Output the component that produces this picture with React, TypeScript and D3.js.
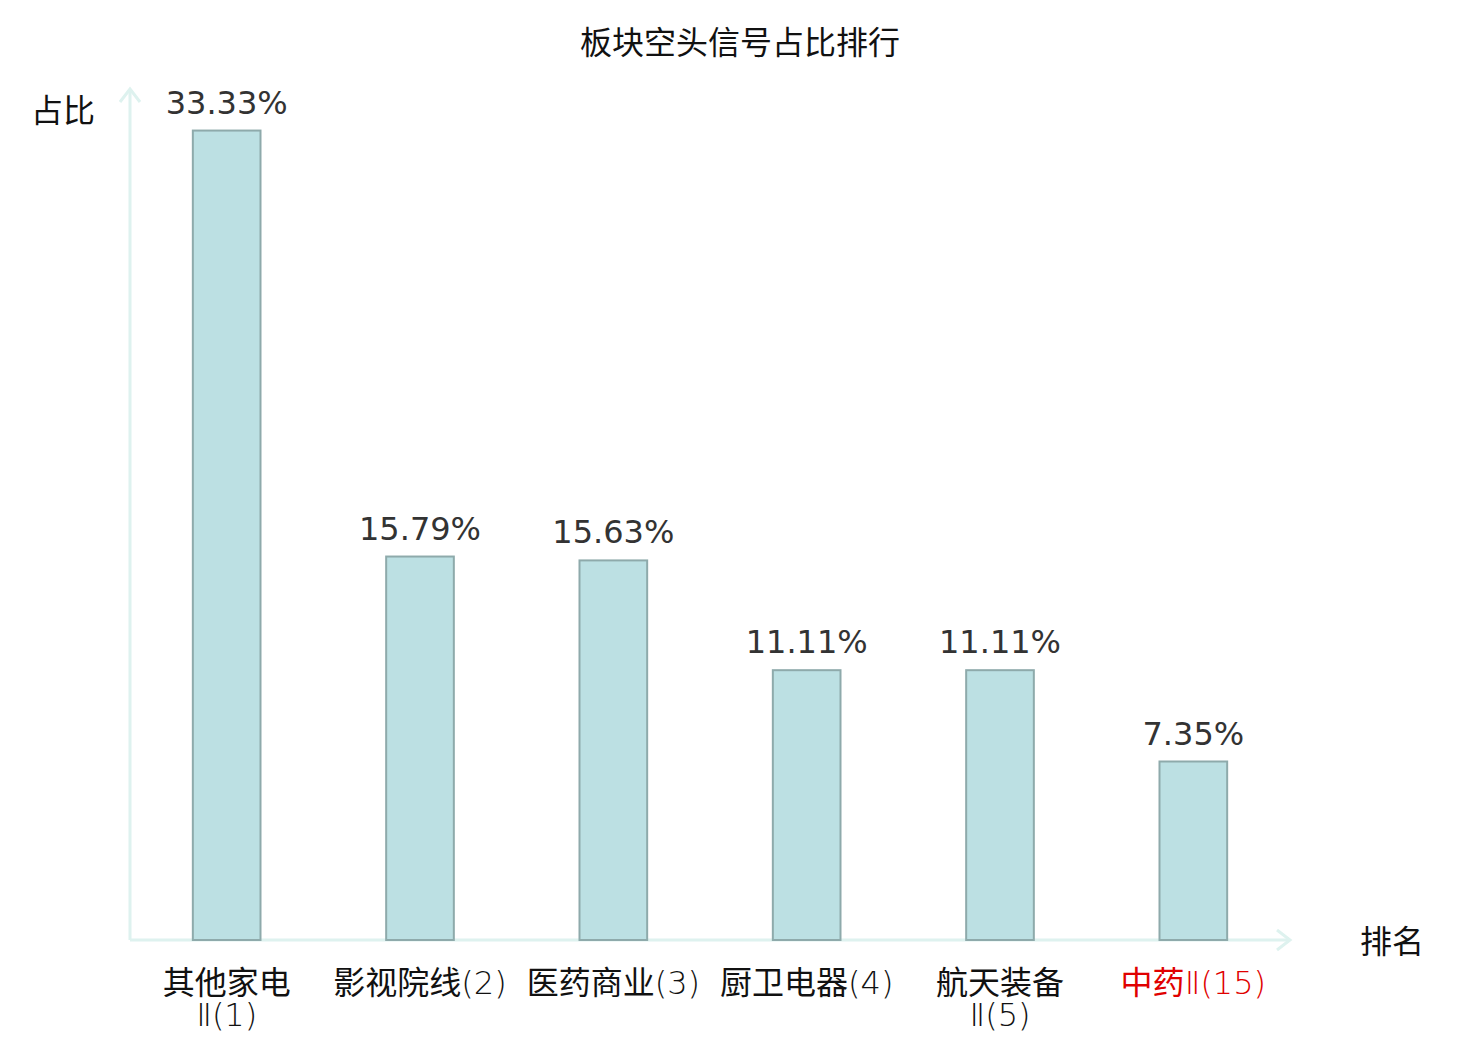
import { useEffect, useRef } from "react"
import * as d3 from "d3"

const title = "板块空头信号占比排行"
const categories = ["其他家电Ⅱ(1)", "影视院线(2)", "医药商业(3)", "厨卫电器(4)", "航天装备Ⅱ(5)", "中药Ⅱ(15)"]
const shares = [33.33, 15.79, 15.63, 11.11, 11.11, 7.35]
const highlighted = ["中药Ⅱ(15)"]
const yName = "占比"
const xName = "排名"

const W = 1480
const H = 1040
const FONT = "'DejaVu Sans', 'Noto Sans CJK SC', sans-serif"

const isCJK = (s: string) => /[\u4e00-\u9fff]/.test(s)

// CJK characters break one by one, latin runs stay together
function tokens(s: string) {
  return s.match(/[\u4e00-\u9fff]|[^\u4e00-\u9fff]+/g) || []
}

export default function App() {
  const svgRef = useRef<SVGSVGElement>(null)

  useEffect(() => {
    document.body.style.margin = "0"
    if (!svgRef.current) return
    const svg = d3.select(svgRef.current)
    svg.selectAll("*").remove()

    const left = 130
    const right = 1290
    const bottom = 940
    const top = 90
    const axisColor = "#def2ef"

    const x = d3.scaleBand<string>().domain(categories).range([left, right]).paddingInner(0.65).paddingOuter(0.325)
    const y = d3.scaleLinear().domain([0, 35]).range([bottom, top])

    svg
      .append("text")
      .attr("x", 740)
      .attr("y", 54)
      .attr("text-anchor", "middle")
      .style("font-family", FONT)
      .style("font-size", "32px")
      .style("fill", "#111")
      .text(title)

    // axes with arrows
    const ax = svg.append("g").attr("stroke", axisColor).attr("stroke-width", 3).attr("fill", "none")
    ax.append("line").attr("x1", left).attr("x2", left).attr("y1", bottom).attr("y2", top - 1)
    ax.append("path").attr("d", `M${left - 10},${top + 12}L${left},${top - 1}L${left + 10},${top + 12}`)
    ax.append("line").attr("x1", left).attr("x2", right).attr("y1", bottom).attr("y2", bottom)
    ax.append("path").attr("d", `M${right - 13},${bottom - 10}L${right},${bottom}L${right - 13},${bottom + 10}`)

    svg
      .append("text")
      .attr("x", 63)
      .attr("y", 122)
      .attr("text-anchor", "middle")
      .style("font-family", FONT)
      .style("font-size", "32px")
      .style("fill", "#111")
      .text(yName)

    svg
      .append("text")
      .attr("x", 1392)
      .attr("y", 953)
      .attr("text-anchor", "middle")
      .style("font-family", FONT)
      .style("font-size", "32px")
      .style("fill", "#111")
      .text(xName)

    svg
      .append("g")
      .selectAll("rect")
      .data(shares)
      .enter()
      .append("rect")
      .attr("x", (_, i) => x(categories[i]) as number)
      .attr("y", (d) => y(d))
      .attr("width", x.bandwidth())
      .attr("height", (d) => bottom - y(d))
      .attr("fill", "#bce0e3")
      .attr("stroke", "#8eaaab")
      .attr("stroke-width", 2)

    svg
      .append("g")
      .selectAll("text")
      .data(shares)
      .enter()
      .append("text")
      .attr("x", (_, i) => (x(categories[i]) as number) + x.bandwidth() / 2)
      .attr("y", (d) => y(d) - 17)
      .attr("text-anchor", "middle")
      .style("font-family", FONT)
      .style("font-size", "32px")
      .style("fill", "#333")
      .text((d) => `${d.toFixed(2)}%`)

    // category labels: CJK regular, latin runs light, wrapped
    const maxW = 182
    const labels = svg.append("g")
    const fill = (tk: string[], el: d3.Selection<SVGTextElement, unknown, null, undefined>) => {
      el.selectAll("tspan").remove()
      tk.forEach((t) => {
        el.append("tspan")
          .style("font-family", isCJK(t) ? "'Noto Sans CJK SC', sans-serif" : "'DejaVu Sans', sans-serif")
          .style("font-weight", isCJK(t) ? 400 : 200)
          .text(t)
      })
    }
    categories.forEach((c) => {
      const cx = (x(c) as number) + x.bandwidth() / 2
      const color = highlighted.includes(c) ? "#e00000" : "#111"
      const mk = (row: number) =>
        labels
          .append("text")
          .attr("x", cx)
          .attr("y", bottom + 54 + row * 32)
          .attr("text-anchor", "middle")
          .style("font-size", "32px")
          .style("fill", color)
      let row = 0
      let line: string[] = []
      let el = mk(row)
      tokens(c).forEach((tk) => {
        line.push(tk)
        fill(line, el)
        if ((el.node() as SVGTextElement).getComputedTextLength() > maxW && line.length > 1) {
          line.pop()
          fill(line, el)
          row++
          line = [tk]
          el = mk(row)
          fill(line, el)
        }
      })
    })
  }, [])

  return <svg ref={svgRef} width={W} height={H} style={{ display: "block", background: "#fff" }} />
}
